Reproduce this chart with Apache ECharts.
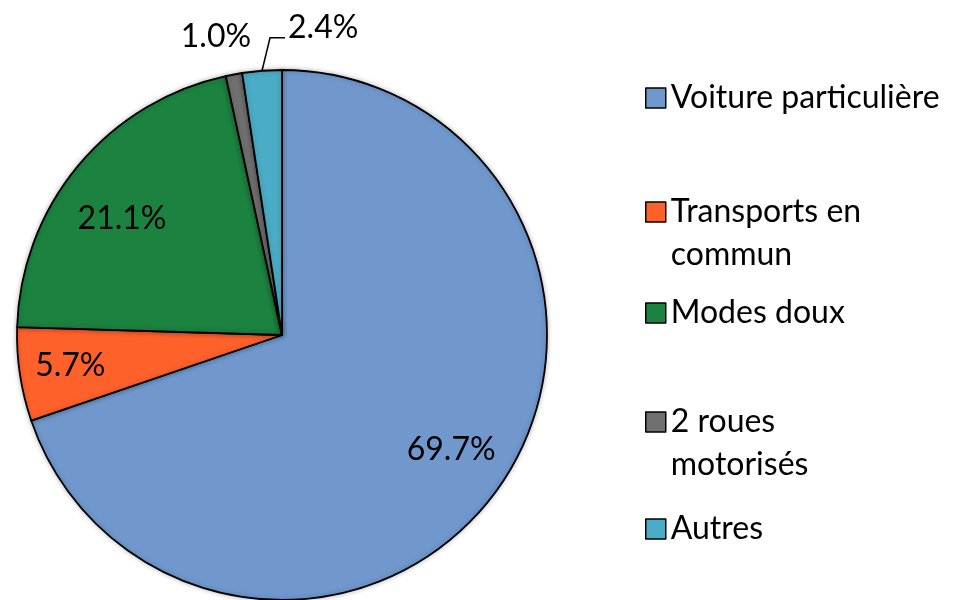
<!DOCTYPE html>
<html>
<head>
<meta charset="utf-8">
<script src="https://cdn.jsdelivr.net/npm/echarts@6/dist/echarts.min.js"></script>
<style>html,body{margin:0;padding:0;background:#fff;}#c{width:961px;height:600px;}</style>
</head>
<body>
<div id="c"></div>
<script>
const categories = ['Voiture particulière', 'Transports en commun', 'Modes doux', '2 roues motorisés', 'Autres'];
const values = [69.7, 5.7, 21.1, 1.0, 2.4];
const colors = ['#7098cd', '#ff612b', '#1b823f', '#707070', '#4aacc6'];
const legendLabels = ['Voiture particulière', '\nTransports en\ncommun', 'Modes doux', '\n2 roues\nmotorisés', 'Autres'];
const legendTops = [76.5, 147.5, 291.5, 357.5, 507.5];

const FONT = 'Lato';
const FS = 32;
const LH = 43;

const chart = echarts.init(document.getElementById('c'), null, {renderer: 'canvas'});

const mainData = categories.map((n, i) => ({
  name: n,
  value: values[i],
  itemStyle: {color: colors[i]},
  label: {show: i >= 3},
  labelLine: {show: i >= 3, lineStyle: {opacity: i === 4 ? 1 : 0}}
}));
const overlayData = categories.map((n, i) => ({
  name: n,
  value: values[i],
  label: {show: i < 3}
}));

const legends = categories.map((n, i) => ({
  data: [n],
  orient: 'vertical',
  left: 645,
  top: legendTops[i],
  padding: 0,
  itemWidth: 20,
  itemHeight: 20,
  itemGap: 0,
  icon: 'rect',
  itemStyle: {borderColor: '#000', borderWidth: 1.5},
  textStyle: {fontFamily: FONT, fontSize: FS, color: '#000', lineHeight: LH},
  formatter: () => legendLabels[i],
  selectedMode: false
}));

chart.setOption({
  animation: false,
  backgroundColor: '#fff',
  legend: legends,
  series: [
    {
      type: 'pie',
      center: [282, 335],
      radius: [0, 265],
      startAngle: 90,
      clockwise: true,
      data: mainData,
      itemStyle: {borderColor: '#000', borderWidth: 1.8, shadowBlur: 5, shadowColor: 'rgba(0,0,0,0.25)'},
      label: {
        position: 'outside',
        fontFamily: FONT, fontSize: FS, color: '#000',
        formatter: p => p.value.toFixed(1) + '%'
      },
      labelLine: {length: 20, length2: 15, lineStyle: {color: '#000', width: 1.5}},
      labelLayout: function (p) {
        const pts = p.labelLinePoints;
        if (!pts) return {};
        const s = pts[0];
        if (p.dataIndex === 4) {
          const b = [s[0] + 8, s[1] - 33];
          const e = [b[0] + 15, b[1]];
          return {x: e[0] + 3, y: e[1] - 10, align: 'left', verticalAlign: 'middle', labelLinePoints: [s, b, e]};
        }
        if (p.dataIndex === 3) {
          return {x: s[0] - 18, y: s[1] - 38, align: 'center', verticalAlign: 'middle'};
        }
        return {};
      }
    },
    {
      type: 'pie',
      center: [282, 335],
      radius: [145, 265],
      startAngle: 90,
      clockwise: true,
      silent: true,
      legendHoverLink: false,
      z: 3,
      data: overlayData,
      itemStyle: {color: 'rgba(0,0,0,0)', borderWidth: 0},
      label: {
        position: 'inside',
        fontFamily: FONT, fontSize: FS, color: '#000',
        formatter: p => p.value.toFixed(1) + '%'
      },
      labelLine: {show: false},
      labelLayout: function (p) {
        if (p.dataIndex === 2) return {dy: 17};
        if (p.dataIndex === 0) return {dy: -6};
        if (p.dataIndex === 1) return {dx: -6};
        return {};
      }
    }
  ]
});
</script>
</body>
</html>
